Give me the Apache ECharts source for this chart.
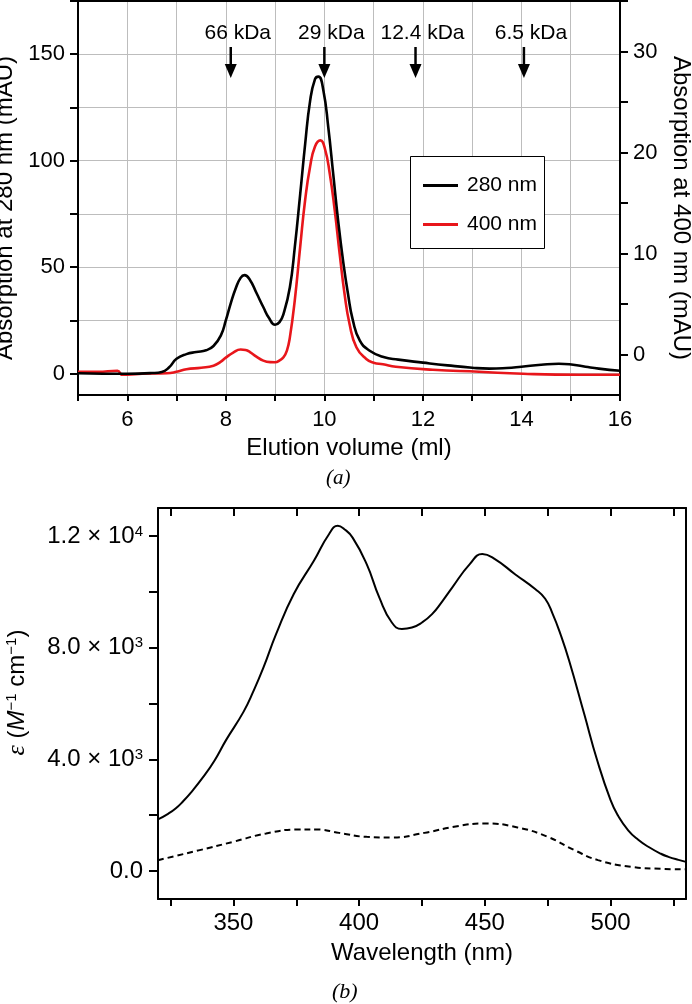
<!DOCTYPE html>
<html><head><meta charset="utf-8">
<script src="https://cdn.jsdelivr.net/npm/echarts@6/dist/echarts.min.js"></script>
<style>html,body{margin:0;padding:0;background:#fff}#c{width:692px;height:1004px}</style>
</head><body><div id="c"></div>
<script>
// ---------- Panel (a): size-exclusion chromatogram ----------
const vol280 = [5.0,5.5,6.0,6.5,6.7,6.85,7.0,7.2,7.4,7.6,7.75,7.9,8.0,8.1,8.2,8.3,8.38,8.49,8.62,8.76,8.88,9.0,9.09,9.17,9.3,9.4,9.51,9.61,9.71,9.81,9.88,9.98,10.08,10.18,10.28,10.38,10.48,10.58,10.72,10.92,11.2,11.5,12.0,12.5,13.0,13.35,13.7,14.0,14.4,14.76,15.05,15.3,15.57,16.0];
const abs280 = [0.2,0.0,0.0,0.3,0.8,3,7,9.2,10.2,11,13,18,25,33,40,45,46.3,44,38,31.3,26,23,24.2,28,40.6,59.4,84.4,107.8,128,138.3,139.5,133,115.6,93.7,71.8,53,37.4,24.9,15.5,10.8,7.8,6.6,5.2,3.9,2.8,2.4,2.7,3.3,4.2,4.7,4.2,3.3,2.4,1.4];
const vol400 = [5.0,5.4,5.8,5.9,6.0,6.3,6.8,7.0,7.2,7.5,7.75,7.9,8.0,8.15,8.3,8.4,8.49,8.62,8.76,8.9,9.0,9.1,9.17,9.24,9.3,9.4,9.51,9.61,9.71,9.81,9.92,10.01,10.11,10.21,10.31,10.41,10.51,10.65,10.85,11.0,11.19,11.45,12.2,13.14,14.03,15.17,16.0];
const abs400 = [-1.7,-1.7,-1.6,-2.0,-2.0,-1.9,-1.85,-1.7,-1.45,-1.3,-1.1,-0.7,-0.3,0.2,0.5,0.45,0.25,-0.2,-0.6,-0.75,-0.76,-0.55,-0.27,0.4,1.7,5.4,10.7,15.3,18.6,20.6,21.2,20.4,17.9,14.3,10.0,6.0,3.05,0.73,-0.43,-0.8,-0.95,-1.2,-1.5,-1.7,-1.9,-2.0,-2.0];
const markerVolumes = [8.1, 10.0, 11.85, 14.05];
const markerLabels = ['66 kDa', '29 kDa', '12.4 kDa', '6.5 kDa'];
const aXLabels = [6, 8, 10, 12, 14, 16];
const aLeftLabels = [0, 50, 100, 150];
const aLeftTicks = [0, 25, 50, 75, 100, 125, 150, 175];
const aRightLabels = [0, 10, 20, 30];
const aRightTicks = [0, 5, 10, 15, 20, 25, 30, 35];

// ---------- Panel (b): absorption spectra ----------
const wlSolid = [320,324,327,330,333,338,342.5,347,354,358,362,367,374,382,388,391.5,394,397.4,403,408,413,417,421,425,429,433,437,444,449,454,462,470,474,477,480,483.5,489.5,494.7,500,503,507,511,515,520,523,527,530];
const epsSolid = [1850,2050,2240,2500,2800,3370,3960,4680,5700,6450,7300,8490,9920,11110,12060,12360,12250,11940,10990,9800,8900,8670,8720,8900,9200,9650,10150,10990,11350,11170,10630,10100,9750,9200,8500,7540,5630,3960,2540,1980,1460,1120,870,620,510,400,330];
const wlDashed = [320,336.6,349.8,363,376,383,392,403,413,426,439,450,463,475,485.6,495,508,520,530];
const epsDashed = [390,750,1046,1346,1489,1490,1368,1225,1204,1368,1607,1704,1561,1225,750,393,154,80,61];
const bXLabels = [350, 400, 450, 500];
const bXTicks = [325, 350, 375, 400, 425, 450, 475, 500, 525];
const bYLabels = [0, 4000, 8000, 12000];
const bYTicks = [0, 2000, 4000, 6000, 8000, 10000, 12000];

const FF = '"Liberation Sans", Arial, sans-serif';
const zip = (xs, ys) => xs.map((x, i) => [x, ys[i]]);
const axisLine = {show: true, onZero: false, lineStyle: {color: '#000', width: 2}};
const tickLbl = {color: '#000', fontSize: 22, fontFamily: FF};
const tickLblB = {color: '#000', fontSize: 24, fontFamily: FF};

function sciLabel(v) {
  if (v === 0) return '0.0';
  const e = Math.floor(Math.log10(v));
  const m = (v / Math.pow(10, e)).toFixed(1);
  return m + ' × 10{s|' + e + '}';
}

const chart = echarts.init(document.getElementById('c'), null, {renderer: 'canvas'});
chart.setOption({
  backgroundColor: '#fff',
  animation: false,
  grid: [
    {left: 78, top: 1, width: 542, height: 394, outerBoundsMode: 'none'},
    {left: 158, top: 508, width: 528, height: 391, outerBoundsMode: 'none'}
  ],
  legend: {
    data: ['280 nm', '400 nm'], orient: 'vertical', left: 410, top: 156,
    padding: [19, 6, 14, 13], itemGap: 18, itemWidth: 35, itemHeight: 3, icon: 'rect',
    selectedMode: false, z: 10,
    textStyle: {fontSize: 21, color: '#000', fontFamily: FF, padding: [0, 0, 0, 4]}
  },
  xAxis: [
    {gridIndex: 0, type: 'value', min: 5, max: 16, interval: 1, position: 'bottom',
     name: 'Elution volume (ml)', nameLocation: 'middle', nameGap: 41,
     nameTextStyle: {fontSize: 24, color: '#000', fontFamily: FF},
     axisLine: axisLine, axisTick: {show: true, length: 6, lineStyle: {color: '#000', width: 2}},
     axisLabel: Object.assign({customValues: aXLabels, margin: 14}, tickLbl),
     splitLine: {show: true, lineStyle: {color: '#bdbdbd', width: 1}}},
    {gridIndex: 0, type: 'value', min: 5, max: 16, position: 'top',
     axisLine: axisLine, axisTick: {show: false}, axisLabel: {show: false}, splitLine: {show: false}},
    {gridIndex: 1, type: 'value', min: 320, max: 530, position: 'bottom',
     name: 'Wavelength (nm)', nameLocation: 'middle', nameGap: 42,
     nameTextStyle: {fontSize: 24, color: '#000', fontFamily: FF},
     axisLine: axisLine, axisTick: {show: true, length: 7, customValues: bXTicks, lineStyle: {color: '#000', width: 2}},
     axisLabel: Object.assign({customValues: bXLabels, margin: 12}, tickLblB),
     splitLine: {show: false}},
    {gridIndex: 1, type: 'value', min: 320, max: 530, position: 'top',
     axisLine: axisLine, axisTick: {show: true, inside: true, length: 8, customValues: bXTicks, lineStyle: {color: '#000', width: 2}},
     axisLabel: {show: false}, splitLine: {show: false}}
  ],
  yAxis: [
    {gridIndex: 0, type: 'value', min: -10, max: 175, position: 'left',
     name: 'Absorption at 280 nm (mAU)', nameLocation: 'middle', nameGap: 53,
     nameTextStyle: {fontSize: 24, color: '#000', fontFamily: FF, padding: [0, 20, 0, 0]},
     axisLine: axisLine, axisTick: {show: true, length: 8, customValues: aLeftTicks, lineStyle: {color: '#000', width: 2}},
     axisLabel: Object.assign({customValues: aLeftLabels, margin: 13}, tickLbl),
     splitLine: {show: true, lineStyle: {color: '#bdbdbd', width: 1}}},
    {gridIndex: 0, type: 'value', min: -4, max: 35, position: 'right',
     name: 'Absorption at 400 nm (mAU)', nameLocation: 'middle', nameGap: 49, nameRotate: -90,
     nameTextStyle: {fontSize: 24, color: '#000', fontFamily: FF, padding: [0, 0, 0, 20]},
     axisLine: axisLine, axisTick: {show: true, length: 8, customValues: aRightTicks, lineStyle: {color: '#000', width: 2}},
     axisLabel: Object.assign({customValues: aRightLabels, margin: 13}, tickLbl),
     splitLine: {show: false}},
    {gridIndex: 1, type: 'value', min: -1000, max: 13000, position: 'left',
     name: '{e|ε} ({m|M}{s|−1} cm{s|−1})', nameLocation: 'middle', nameGap: 128,
     nameTextStyle: {fontSize: 24, color: '#000', fontFamily: FF, padding: [0, 0, 0, 22],
       rich: {e: {fontSize: 26, fontFamily: '"Liberation Serif", serif', fontStyle: 'italic', color: '#000'},
              m: {fontSize: 24, fontStyle: 'italic', fontFamily: FF, color: '#000'},
              s: {fontSize: 15, verticalAlign: 'top', fontFamily: FF, color: '#000'}}},
     axisLine: axisLine, axisTick: {show: true, length: 9, customValues: bYTicks, lineStyle: {color: '#000', width: 2}},
     axisLabel: Object.assign({customValues: bYLabels, margin: 15, formatter: sciLabel,
       rich: {s: {fontSize: 15, verticalAlign: 'top', fontFamily: FF, color: '#000'}}}, tickLblB),
     splitLine: {show: false}},
    {gridIndex: 1, type: 'value', min: -1000, max: 13000, position: 'right',
     axisLine: axisLine, axisTick: {show: false}, axisLabel: {show: false}, splitLine: {show: false}}
  ],
  graphic: [
    {type: 'rect', left: 410, top: 156, z: 5, shape: {width: 134, height: 92},
     style: {fill: '#fff', stroke: '#000', lineWidth: 1}},
    {type: 'text', left: 326, top: 468, style: {text: '(a)', font: 'italic 21px "Liberation Serif", serif', fill: '#000'}},
    {type: 'text', left: 332, top: 981, style: {text: '(b)', font: 'italic 22px "Liberation Serif", serif', fill: '#000'}}
  ],
  series: [
    {name: '280 nm', type: 'line', xAxisIndex: 0, yAxisIndex: 0, data: zip(vol280, abs280),
     showSymbol: false, smooth: 0.5, color: '#000',
     lineStyle: {color: '#000', width: 2.6}, z: 4},
    {name: '400 nm', type: 'line', xAxisIndex: 0, yAxisIndex: 1, data: zip(vol400, abs400),
     showSymbol: false, smooth: 0.5, color: '#e8161b',
     lineStyle: {color: '#e8161b', width: 2.6}, z: 3},
    {type: 'custom', xAxisIndex: 0, yAxisIndex: 0, silent: true, z: 6,
     data: markerVolumes.map(v => [v, 0]),
     renderItem: function (params, api) {
       const px = api.coord([api.value(0), 0])[0];
       const top = params.coordSys.y;
       return {type: 'group', children: [
         {type: 'line', shape: {x1: px, y1: top + 46, x2: px, y2: top + 65}, style: {stroke: '#000', lineWidth: 2.5}},
         {type: 'polygon', shape: {points: [[px - 6, top + 63], [px + 6, top + 63], [px, top + 77]]}, style: {fill: '#000'}},
         {type: 'text', x: px + 7, y: top + 32, style: {text: markerLabels[params.dataIndex], fill: '#000',
           font: '21px ' + FF, align: 'center', verticalAlign: 'middle'}}
       ]};
     }},
    {name: 'solid', type: 'line', xAxisIndex: 2, yAxisIndex: 2, data: zip(wlSolid, epsSolid),
     showSymbol: false, smooth: 0.5, lineStyle: {color: '#000', width: 2}},
    {name: 'dashed', type: 'line', xAxisIndex: 2, yAxisIndex: 2, data: zip(wlDashed, epsDashed),
     showSymbol: false, smooth: 0.5, lineStyle: {color: '#000', width: 2, type: [6, 4]}}
  ]
});
</script></body></html>
